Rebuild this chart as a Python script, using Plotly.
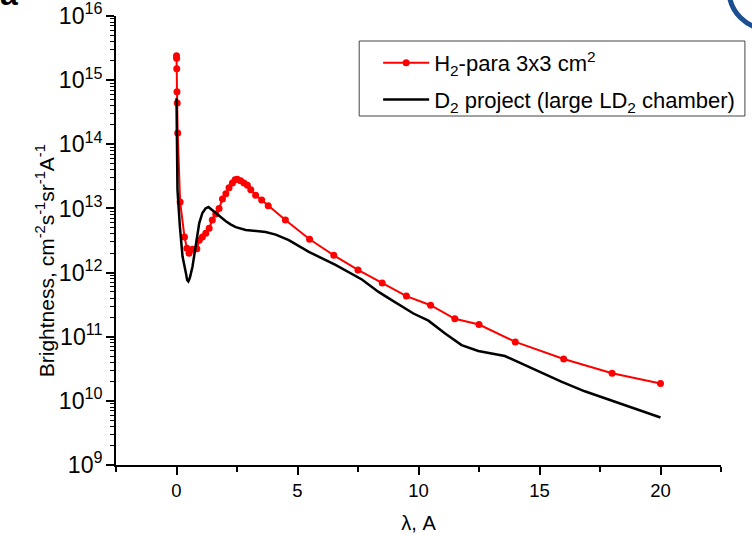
import plotly.graph_objects as go

# ---- data ----
red_x = [0.0, 0.005, 0.01, 0.02, 0.03, 0.05, 0.15, 0.33, 0.43, 0.52, 0.66, 0.84, 0.94,
         1.07, 1.21, 1.35, 1.48, 1.62, 1.76, 1.90, 2.04, 2.17, 2.31, 2.42, 2.51, 2.65,
         2.79, 2.93, 3.07, 3.27, 3.52, 3.79, 4.5, 5.5, 6.5, 7.5, 8.5, 9.5, 10.5, 11.5,
         12.5, 14.0, 16.0, 18.0, 20.0]
red_y = [2.4e15, 2.2e15, 1.5e15, 6.6e14, 4.4e14, 1.5e14, 1.26e13, 3.6e12, 2.4e12, 2.0e12,
         2.3e12, 2.35e12, 3.2e12, 3.6e12, 4.1e12, 4.9e12, 6.6e12, 8.2e12, 1.0e13, 1.4e13,
         1.7e13, 2.1e13, 2.5e13, 2.8e13, 2.85e13, 2.7e13, 2.5e13, 2.3e13, 1.95e13, 1.6e13,
         1.35e13, 1.1e13, 6.6e12, 3.3e12, 1.86e12, 1.1e12, 6.9e11, 4.3e11, 3.1e11, 1.9e11,
         1.55e11, 8.3e10, 4.5e10, 2.7e10, 1.87e10]

black_x = [0.0, 0.01, 0.04, 0.14, 0.25, 0.39, 0.44, 0.49, 0.55, 0.66, 0.80, 0.94, 1.07,
           1.20, 1.32, 1.45, 1.62, 1.82, 2.04, 2.25, 2.45, 2.86, 3.27, 3.68, 4.10, 4.64,
           5.47, 6.57, 7.66, 8.35, 8.76, 9.18, 9.79, 10.41, 11.10, 11.78, 12.47, 13.57,
           14.53, 15.90, 16.87, 17.96, 20.0]
black_y = [5.2e14, 1.17e14, 1.95e13, 5.2e12, 1.78e12, 9.8e11, 7.7e11, 7.3e11, 8.2e11,
           1.23e12, 2.9e12, 5.9e12, 8.5e12, 1.0e13, 1.05e13, 9.6e12, 8.5e12, 7.2e12,
           6.3e12, 5.6e12, 5.1e12, 4.6e12, 4.5e12, 4.3e12, 3.9e12, 3.2e12, 2.1e12,
           1.32e12, 7.8e11, 5.0e11, 4.0e11, 3.2e11, 2.3e11, 1.78e11, 1.12e11, 7.4e10,
           6.0e10, 5.0e10, 3.4e10, 2.0e10, 1.41e10, 1.02e10, 5.5e9]

red_name = "H<sub>2</sub>-para 3x3 cm<sup>2</sup>"
black_name = "D<sub>2</sub> project (large LD<sub>2</sub> chamber)"
x_title = "λ, A"
y_title = "Brightness, cm<sup>-2</sup>s<sup>-1</sup>sr<sup>-1</sup>A<sup>-1</sup>"

FONT = "Liberation Sans, Arial, sans-serif"
W, H = 752, 536
L, R, T, B = 116, 723, 16, 465


def px_to_paper(px, py):
    return (px - L) / (R - L), (B - py) / (B - T)


fig = go.Figure()
fig.add_trace(go.Scatter(
    x=red_x, y=red_y, name=red_name, mode="lines+markers", legendgroup="h2",
    line=dict(color="#ff0000", width=2),
    marker=dict(color="#ff0000", size=7),
))
fig.add_trace(go.Scatter(
    x=black_x, y=black_y, name=black_name, mode="lines", legendgroup="d2",
    line=dict(color="#000000", width=2.5),
))

axis_common = dict(
    showgrid=False, zeroline=False, showline=True, linecolor="black", linewidth=1.5,
    ticks="outside", ticklen=8, tickwidth=1.5, tickcolor="black", automargin=False,
    ticklabeloverflow="allow",
    tickfont=dict(family=FONT, size=18.5, color="black"),
)

fig.update_xaxes(
    range=[-2.5, 22.5], tick0=0, dtick=5,
    minor=dict(ticks="outside", ticklen=5, tickwidth=1.5, tickcolor="black",
               dtick=2.5, tick0=0, showgrid=False),
    title=dict(text=x_title, font=dict(family=FONT, size=20, color="black"), standoff=16),
    **axis_common,
)
fig.update_yaxes(
    type="log", range=[9, 16], dtick=1, exponentformat="power",
    minor=dict(ticks="outside", ticklen=4, tickwidth=1, tickcolor="black",
               dtick="D1", showgrid=False),
    **axis_common,
)

ax, ay = px_to_paper(45, 261)
annotations = [
    dict(text=y_title, x=ax, y=ay, xref="paper", yref="paper", textangle=-90,
         showarrow=False, xanchor="center", yanchor="middle",
         font=dict(family=FONT, size=21, color="black")),
]
lx, ly = px_to_paper(-2, -6)
annotations.append(dict(text="<b>a</b>", x=lx, y=ly, xref="paper", yref="paper",
                        showarrow=False, xanchor="left", yanchor="middle",
                        font=dict(family=FONT, size=32, color="black")))

# partial logo circle at the top-right corner
c0x, c0y = px_to_paper(731, 29)
c1x, c1y = px_to_paper(809, -49)
# legend frame
f0x, f0y = px_to_paper(360, 116)
f1x, f1y = px_to_paper(747, 41)
shapes = [
    dict(type="circle", xref="paper", yref="paper", x0=c0x, y0=c1y, x1=c1x, y1=c0y,
         line=dict(color="#1b4f8f", width=5)),
    dict(type="rect", xref="paper", yref="paper", x0=f0x, y0=f0y, x1=f1x, y1=f1y,
         line=dict(color="#444444", width=1), fillcolor="white", layer="above"),
]

legx, legy = px_to_paper(379, 81.5)
fig.update_layout(
    width=W, height=H,
    margin=dict(l=L, r=W - R, t=T, b=H - B),
    paper_bgcolor="white", plot_bgcolor="white",
    showlegend=True,
    legend=dict(x=legx, y=legy, xanchor="left", yanchor="middle",
                bgcolor="rgba(0,0,0,0)", borderwidth=0,
                font=dict(family=FONT, size=22, color="black"),
                itemwidth=46, traceorder="grouped", tracegroupgap=5),
    annotations=annotations,
    shapes=shapes,
)

fig.write_html("out.html")
